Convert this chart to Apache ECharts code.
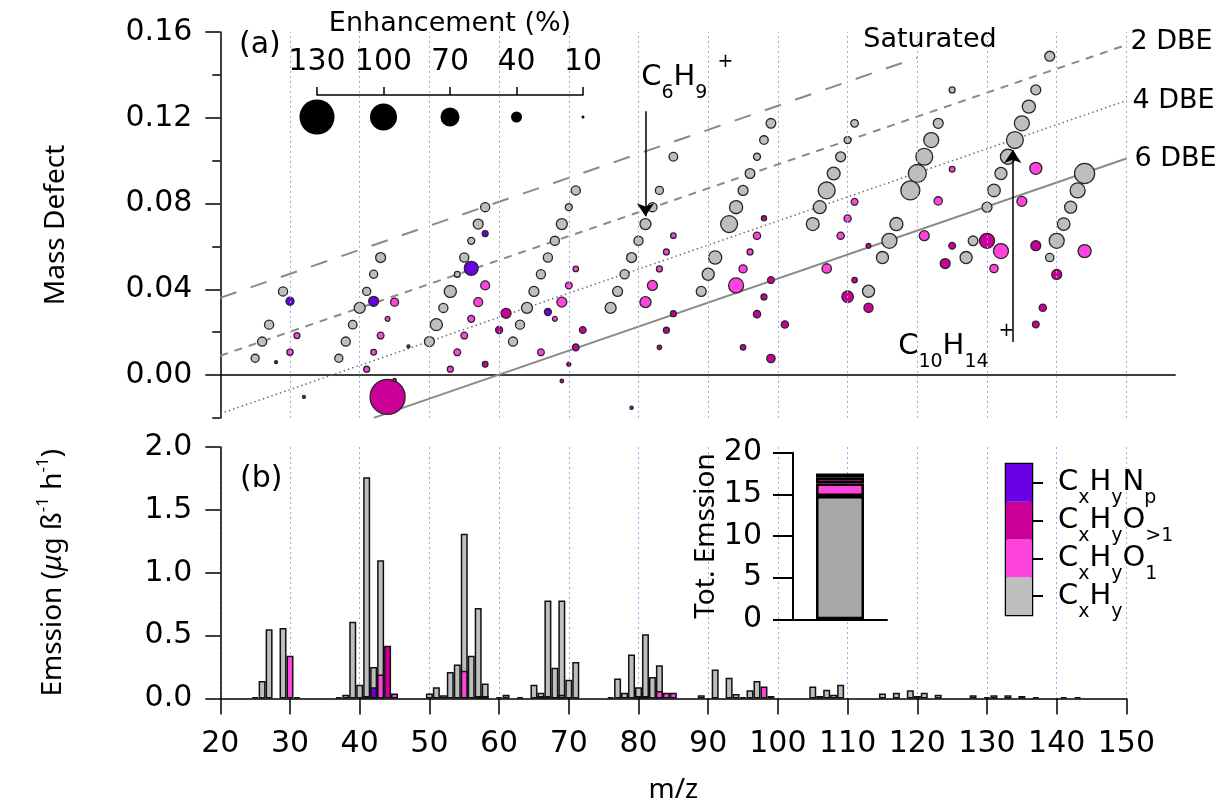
<!DOCTYPE html>
<html>
<head>
<meta charset="utf-8">
<script src="https://cdn.jsdelivr.net/npm/echarts@6/dist/echarts.min.js"></script>
<style>
html, body { margin: 0; padding: 0; background: #fff; }
#main { width: 1216px; height: 805px; }
</style>
</head>
<body>
<div id="main"></div>
<script>
// (a) mass defect points: [m/z, mass defect, enhancement %]
var hcPoints = [
    [25,0.0078,29],[26,0.0156,33],[27,0.0235,33],[29,0.039,33],
    [37,0.0078,29],[38,0.0156,33],[39,0.0235,31],[40,0.0313,40],[41,0.039,29],[42,0.047,29],[43,0.0548,36],
    [50,0.0156,36],[51,0.0235,44],[52,0.0313,33],[53,0.039,44],[54,0.047,21],[55,0.0548,33],[56,0.0626,25],[57,0.0704,36],[58,0.0783,33],
    [62,0.0156,33],[63,0.0235,33],[64,0.0313,40],[65,0.039,36],[66,0.047,33],[67,0.0548,33],[68,0.0626,33],[69,0.0704,40],[70,0.0783,25],[71,0.0861,33],
    [76,0.0313,40],[77,0.039,36],[78,0.047,33],[79,0.0548,36],[80,0.0626,33],[81,0.0704,40],[82,0.0783,33],[83,0.0861,29],[85,0.1018,31],
    [89,0.039,36],[90,0.047,44],[91,0.0548,48],[93,0.0704,62],[94,0.0783,48],[95,0.0861,36],[96,0.094,35],[97,0.1018,25],[98,0.1096,31],[99,0.1174,35],
    [105,0.0704,47],[106,0.0783,47],[107,0.0861,62],[108,0.094,47],[109,0.1018,36],[110,0.1096,25],[111,0.1174,27],
    [113,0.0391,44],[115,0.0548,44],[116,0.0626,55],[117,0.0704,48],[119,0.0861,70],[120,0.094,66],[121,0.1018,62],[122,0.1096,55],[123,0.1174,36],[125,0.133,21],
    [127,0.0548,44],[128,0.0626,35],[130,0.0783,36],[131,0.0861,46],[132,0.094,44],[133,0.1018,55],[134,0.1096,62],[135,0.1174,55],[136,0.1252,48],[137,0.133,36],[139,0.1487,36],
    [139,0.0548,30],[140,0.0626,55],[141,0.0704,46],[142,0.0783,44],[143,0.0861,55],[144,0.094,74]
];
var o1Points = [
    [30,0.0106,22],[31,0.0184,21],[41,0.0027,21],[42,0.0106,20],[43,0.0184,24],[44,0.0262,17],[45,0.034,29],
    [53,0.0027,21],[54,0.0106,24],[55,0.0184,24],[56,0.0262,25],[57,0.034,32],[58,0.0418,32],
    [66,0.0106,24],[68,0.0262,17],[69,0.034,36],[70,0.0418,24],[71,0.0495,19],
    [81,0.034,40],[82,0.0418,36],[83,0.0495,21],[84,0.0574,21],[85,0.065,19],
    [94,0.0418,55],[95,0.0495,29],[96,0.0574,21],[97,0.065,26],
    [107,0.0497,34],[109,0.065,26],[110,0.073,26],[111,0.0808,24],
    [121,0.065,36],[123,0.0812,30],[125,0.096,20],
    [131,0.0497,30],[132,0.0578,55],[135,0.081,36],[137,0.0964,44],[144,0.0578,48]
];
var o2Points = [
    [32,-0.0102,10],[44,-0.0102,130],[45,-0.0024,12],[47,0.0133,10],
    [58,0.005,20],[60,0.021,25],[61,0.0288,36],
    [69,-0.0028,12],[70,0.005,14],[71,0.0129,24],[72,0.021,24],
    [79,-0.0153,11],[83,0.0129,15],[84,0.0209,21],[85,0.0286,21],
    [95,0.0129,19],[97,0.0284,26],[98,0.0364,21],[98,0.0731,18],[99,0.0443,24],[99,0.0077,30],[101,0.0236,26],
    [110,0.0365,42],[111,0.0443,19],[113,0.0603,17],[113,0.0314,33],
    [124,0.052,36],[125,0.0603,24],[130,0.0626,55],[137,0.0603,36],[137,0.0236,24],[138,0.0314,26],[140,0.0469,36]
];
var nPoints = [
    [28,0.006,10],[30,0.0344,29],[42,0.0344,36],[56,0.0498,51],[58,0.066,21],[67,0.0294,25]
];
var enhTicks = [130, 100, 70, 40, 10];

// reference lines [m/z, mass defect]
var satLine = [[20, 0.036], [120, 0.148]];
var dbe2Line = [[20, 0.009], [150, 0.154]];
var dbe4Line = [[20, -0.018], [150, 0.128]];
var dbe6Line = [[42, -0.020], [150, 0.101]];
var gridMz = [30, 40, 50, 60, 70, 80, 90, 100, 110, 120, 130, 140, 150];

// (b) emission bars [m/z, value]
var hcBars = [
    [25,0.01],[26,0.14],[27,0.55],[29,0.56],[31,0.01],
    [37,0.01],[38,0.03],[39,0.61],[40,0.11],[41,1.76],[42,0.25],[43,1.10],
    [50,0.04],[51,0.09],[52,0.025],[53,0.21],[54,0.27],[55,1.31],[56,0.34],[57,0.72],[58,0.12],
    [63,0.01],[65,0.11],[66,0.045],[67,0.78],[68,0.245],[69,0.78],[70,0.15],[71,0.29],
    [76,0.01],[77,0.16],[78,0.045],[79,0.35],[80,0.09],[81,0.51],[82,0.17],[83,0.265],
    [89,0.025],[91,0.23],[93,0.165],[94,0.035],[95,0.01],[96,0.065],[97,0.14],[99,0.02],
    [105,0.095],[106,0.02],[107,0.07],[108,0.03],[109,0.11],
    [115,0.04],[117,0.045],[119,0.065],[120,0.02],[121,0.045],[123,0.03],
    [128,0.025],[130,0.01],[131,0.025],[133,0.025],[135,0.02],[137,0.01],[141,0.01],[143,0.01]
];
var o1Bars = [[30,0.34],[41,0.02],[43,0.19],[45,0.04],[55,0.22],[57,0.02],[61,0.03],[69,0.03],[80,0.02],[81,0.02],[83,0.06],[84,0.045],[85,0.045],[98,0.095]];
var o2Bars = [[44,0.42],[58,0.02],[60,0.01],[68,0.01]];
var nBars = [[42,0.09],[66,0.02],[67,0.02]];

// inset: total emission by family (bottom to top)
var totCats = ['CxHy', 'CxHyO1', 'CxHyO>1', 'CxHyNp'];
var totValues = [14.8, 1.5, 0.7, 0.5];
var legendLabels = ['{b|C}{s|x}{b|H}{s|y}', '{b|C}{s|x}{b|H}{s|y}{b|O}{s|1}', '{b|C}{s|x}{b|H}{s|y}{b|O}{s|>1}', '{b|C}{s|x}{b|H}{s|y}{b|N}{s|p}'];

var colors = ['#BEBEBE', '#FF44DD', '#CC0099', '#6A00E6'];
var FONT = 'DejaVu Sans';
var NARROW = "'Liberation Sans Narrow', 'Noto Sans', sans-serif";

var richF = {
    b: { fontSize: 29, fontFamily: FONT, color: '#000', lineHeight: 50 },
    s: { fontSize: 19, fontFamily: FONT, color: '#000', lineHeight: 30, verticalAlign: 'bottom' },
    p: { fontSize: 19, fontFamily: FONT, color: '#000', lineHeight: 19, verticalAlign: 'top', padding: [0, 0, 0, 10] }
};

function enhSize(e) {
    return 3 + 0.267 * (e - 10);
}

var chart = echarts.init(document.getElementById('main'));

function scatterSeries(name, data, color) {
    return {
        name: name, type: 'scatter', xAxisIndex: 0, yAxisIndex: 0, data: data, z: 4,
        symbolSize: function (d) { return enhSize(d[2]); },
        itemStyle: { color: color, borderColor: '#262626', borderWidth: 1.3, opacity: 1 },
        silent: true
    };
}

function refLine(data, style, label, offset) {
    return {
        type: 'line', xAxisIndex: 0, yAxisIndex: 0, data: data, symbol: 'none', z: 2, silent: true,
        lineStyle: style,
        endLabel: { show: true, formatter: label, fontFamily: FONT, fontSize: 27, color: '#000', offset: offset || [0, 0] }
    };
}

function barSeries(name, data, color) {
    return {
        name: name, type: 'bar', xAxisIndex: 1, yAxisIndex: 2, data: data, barWidth: 7, barGap: '-100%',
        itemStyle: { color: color, borderColor: '#111', borderWidth: 1.5 }, silent: true
    };
}

var series = [
    // dotted vertical gridlines and arrows/annotations for panel (a)
    {
        type: 'scatter', xAxisIndex: 0, yAxisIndex: 0, data: [[20, 0]], symbolSize: 0, silent: true,
        markLine: {
            silent: true, symbol: 'none', label: { show: false },
            lineStyle: { color: '#a4a4ee', type: [2, 3], width: 1 },
            data: gridMz.map(function (m) { return { xAxis: m }; })
        }
    },
    {
        type: 'scatter', xAxisIndex: 0, yAxisIndex: 0, data: [[20, 0]], symbolSize: 0, silent: true, z: 6,
        markLine: {
            silent: true, symbol: ['none', 'arrow'], symbolSize: 13, label: { show: false },
            lineStyle: { color: '#000', type: 'solid', width: 1.5 },
            data: [
                [{ coord: [81, 0.123] }, { coord: [81, 0.074] }],
                [{ coord: [133.7, 0.0154] }, { coord: [133.7, 0.105] }]
            ]
        },
        markPoint: {
            silent: true, symbol: 'circle', symbolSize: 0,
            label: { show: true, position: 'inside', rich: richF },
            data: [
                { coord: [87.0, 0.1388], label: { formatter: '{b|C}{s|6}{b|H}{s|9}{p|+}' } },
                { coord: [125.6, 0.0135], label: { formatter: '{b|C}{s|10}{b|H}{s|14}{p|+}' } }
            ]
        }
    },
    refLine(satLine, { color: '#8a8a8a', width: 2, type: [17, 15] }, 'Saturated', [-62, -18]),
    refLine(dbe2Line, { color: '#8a8a8a', width: 2, type: [8, 7] }, '2 DBE', [-4, -3]),
    refLine(dbe4Line, { color: '#6f6f6f', width: 1.5, type: [1.5, 3] }, '4 DBE', [-2, 0]),
    refLine(dbe6Line, { color: '#8a8a8a', width: 2, type: 'solid' }, '6 DBE', [0, 0]),
    scatterSeries('CxHy', hcPoints, colors[0]),
    scatterSeries('CxHyO1', o1Points, colors[1]),
    scatterSeries('CxHyO>1', o2Points, colors[2]),
    scatterSeries('CxHyNp', nPoints, colors[3]),
    // size legend
    {
        type: 'scatter', xAxisIndex: 4, yAxisIndex: 6, silent: true,
        data: enhTicks.map(function (e) { return [e, 1, e]; }),
        symbolSize: function (d) { return enhSize(d[2]); },
        itemStyle: { color: '#000', borderColor: '#000', borderWidth: 0, opacity: 1 }
    },
    // panel (b)
    barSeries('CxHy', hcBars, colors[0]),
    barSeries('CxHyO1', o1Bars, colors[1]),
    barSeries('CxHyO>1', o2Bars, colors[2]),
    barSeries('CxHyNp', nBars, colors[3])
];

// inset total emission and colour key
totCats.forEach(function (c, i) {
    series.push({
        name: c, type: 'bar', xAxisIndex: 2, yAxisIndex: 3, stack: 'tot', data: [totValues[i]], barWidth: 48, silent: true,
        itemStyle: { color: i === 0 ? '#A8A8A8' : colors[i], borderColor: '#000', borderWidth: 2.5 }
    });
    series.push({
        name: c, type: 'bar', xAxisIndex: 3, yAxisIndex: 4, stack: 'leg', data: [1], barWidth: '100%', silent: true,
        itemStyle: { color: colors[i], borderWidth: 0 }
    });
});

var tickFont = { fontFamily: FONT, fontSize: 30, color: '#000' };
var blackLine = { color: '#000', width: 1.5 };

chart.setOption({
    animation: false,
    backgroundColor: '#fff',
    grid: [
        { left: 220.3, right: 40.8, top: 32, height: 385.9, outerBoundsMode: 'none' },
        { left: 220.3, width: 906.1, top: 447, height: 251.5, outerBoundsMode: 'none' },
        { left: 793, width: 94, top: 452.7, height: 166.6, outerBoundsMode: 'none' },
        { left: 1006, width: 26, top: 464, height: 151, show: true, borderColor: '#000', borderWidth: 2.5, backgroundColor: 'transparent', outerBoundsMode: 'none' },
        { left: 317, width: 266, top: 95, height: 44, outerBoundsMode: 'none' }
    ],
    xAxis: [
        {
            gridIndex: 0, type: 'value', min: 20, max: 157,
            axisLine: { show: true, onZero: true, onZeroAxisIndex: 0, lineStyle: blackLine },
            axisTick: { show: false }, axisLabel: { show: false }, splitLine: { show: false }
        },
        {
            gridIndex: 1, type: 'value', min: 20, max: 150, interval: 10,
            name: 'm/z', nameLocation: 'middle', nameGap: 78,
            nameTextStyle: { fontFamily: NARROW, fontSize: 28, color: '#000' },
            axisLine: { show: true, onZero: false, lineStyle: blackLine },
            axisTick: { show: true, length: 16, lineStyle: blackLine },
            axisLabel: Object.assign({ margin: 31 }, tickFont),
            splitLine: { show: true, lineStyle: { color: '#a4a4ee', type: [2, 3], width: 1 } }
        },
        {
            gridIndex: 2, type: 'category', data: ['tot'],
            axisLine: { show: true, lineStyle: { color: '#000', width: 2 } },
            axisTick: { show: false }, axisLabel: { show: false }
        },
        {
            gridIndex: 3, type: 'category', data: ['leg'], show: false
        },
        {
            gridIndex: 4, type: 'value', position: 'top', inverse: true, min: 10, max: 130, interval: 30,
            name: 'Enhancement (%)', nameLocation: 'middle', nameGap: 58,
            nameTextStyle: { fontFamily: FONT, fontSize: 27, color: '#000' },
            axisLine: { show: true, onZero: false, lineStyle: blackLine },
            axisTick: { show: true, length: 8, lineStyle: blackLine },
            axisLabel: Object.assign({ margin: 18 }, tickFont),
            splitLine: { show: false }
        }
    ],
    yAxis: [
        {
            gridIndex: 0, type: 'value', position: 'left', min: -0.02, max: 0.16, interval: 0.02,
            name: 'Mass Defect', nameLocation: 'middle', nameGap: 150,
            nameTextStyle: { fontFamily: NARROW, fontSize: 28, color: '#000' },
            axisLine: { show: true, lineStyle: blackLine },
            axisTick: { show: true, length: 8, lineStyle: blackLine },
            axisLabel: Object.assign({
                margin: 28,
                formatter: function (v) {
                    var k = Math.round(v * 100);
                    return (k >= 0 && k % 4 === 0) ? v.toFixed(2) : '';
                }
            }, tickFont),
            splitLine: { show: false }
        },
        {
            gridIndex: 0, type: 'value', position: 'left', min: -0.02, max: 0.16,
            axisLine: { show: false },
            axisTick: { show: true, length: 15, lineStyle: blackLine, customValues: [0, 0.04, 0.08, 0.12, 0.16] },
            axisLabel: { show: false }, splitLine: { show: false }
        },
        {
            gridIndex: 1, type: 'value', position: 'left', min: 0, max: 2, interval: 0.5,
            name: '{a|Emssion (}{i|μ}{a|g ß}{p|-1}{a| h}{p|-1}{a|)}', nameLocation: 'middle', nameGap: 148,
            nameTextStyle: {
                fontFamily: NARROW, fontSize: 28, color: '#000',
                rich: {
                    a: { fontFamily: NARROW, fontSize: 28, color: '#000', lineHeight: 38 },
                    i: { fontFamily: NARROW, fontSize: 28, fontStyle: 'italic', color: '#000', lineHeight: 38 },
                    p: { fontFamily: NARROW, fontSize: 17, color: '#000', lineHeight: 17, verticalAlign: 'top' }
                }
            },
            axisLine: { show: true, lineStyle: blackLine },
            axisTick: { show: true, length: 15, lineStyle: blackLine },
            axisLabel: Object.assign({ margin: 28, formatter: function (v) { return v.toFixed(1); } }, tickFont),
            splitLine: { show: false }
        },
        {
            gridIndex: 2, type: 'value', min: 0, max: 20, interval: 5,
            name: 'Tot. Emssion', nameLocation: 'middle', nameGap: 70,
            nameTextStyle: { fontFamily: NARROW, fontSize: 28, color: '#000' },
            axisLine: { show: true, lineStyle: { color: '#000', width: 2 } },
            axisTick: { show: true, length: 20, lineStyle: { color: '#000', width: 2 } },
            axisLabel: Object.assign({ margin: 31 }, tickFont),
            splitLine: { show: false }
        },
        {
            gridIndex: 3, type: 'value', min: 0, max: 4, show: false
        },
        {
            gridIndex: 3, type: 'category', position: 'right', data: totCats,
            axisLine: { show: false },
            axisTick: { show: true, alignWithLabel: true, interval: 0, length: 11, inside: false, lineStyle: { color: '#000', width: 2 } },
            axisLabel: {
                margin: 26, align: 'left', interval: 0, hideOverlap: false, rich: richF,
                formatter: function (v) { return legendLabels[totCats.indexOf(v)]; }
            }
        },
        {
            gridIndex: 4, type: 'value', min: 0, max: 2, show: false
        }
    ],
    graphic: [
        { type: 'text', left: 239, top: 30, style: { text: '(a)', font: '30px "DejaVu Sans"', fill: '#000' } },
        { type: 'text', left: 240, top: 464, style: { text: '(b)', font: '30px "DejaVu Sans"', fill: '#000' } }
    ],
    series: series
});
</script>
</body>
</html>
